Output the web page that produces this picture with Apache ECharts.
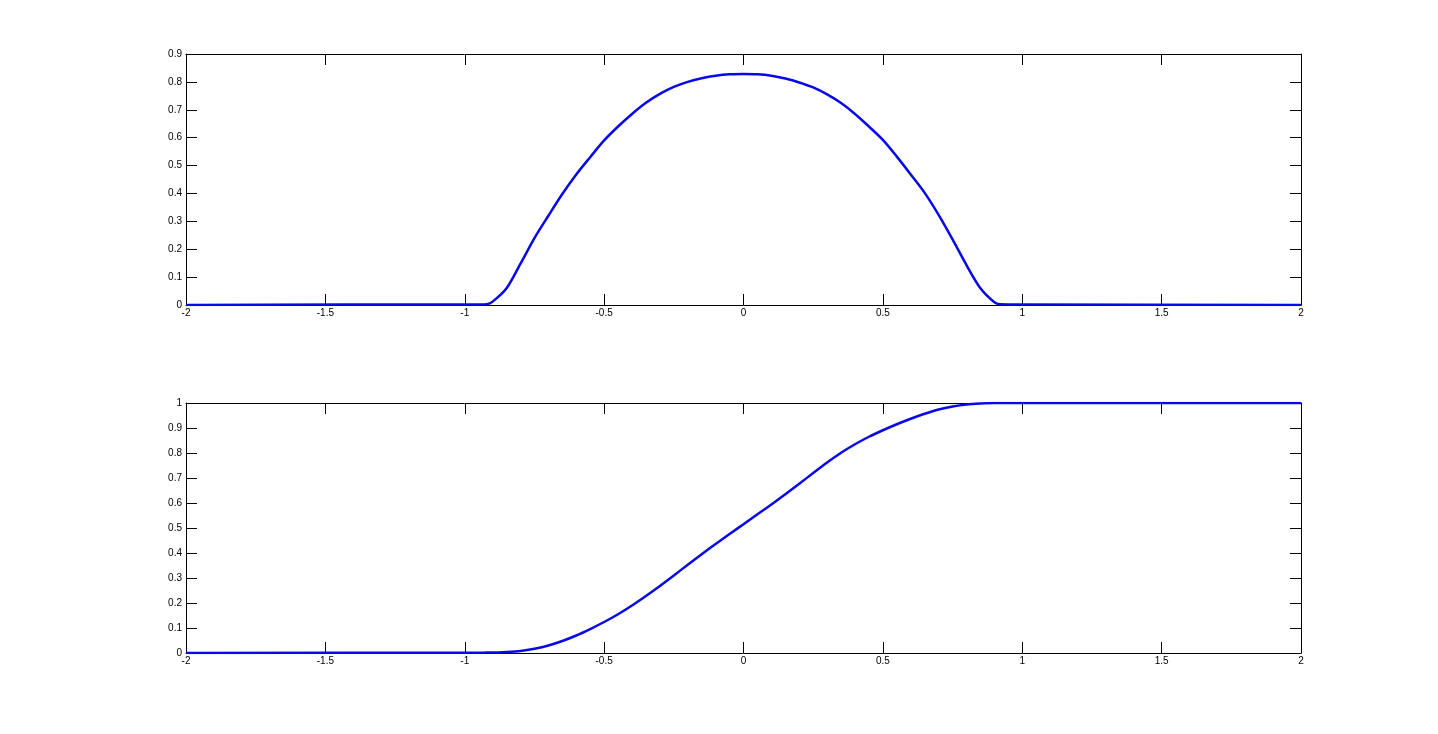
<!DOCTYPE html>
<html>
<head>
<meta charset="utf-8">
<script src="https://cdn.jsdelivr.net/npm/echarts@6/dist/echarts.min.js"></script>
<style>
  html, body { margin: 0; padding: 0; background: #fff; }
  #main { width: 1438px; height: 734px; }
</style>
</head>
<body>
<div id="main"></div>
<script>
// sample positions
const xs = [-2, -1, -0.95, -0.92, -0.9, -0.85, -0.8, -0.75, -0.7, -0.65, -0.6, -0.55, -0.5,
  -0.45, -0.4, -0.35, -0.3, -0.25, -0.2, -0.15, -0.1, -0.05, 0, 0.05, 0.1, 0.15, 0.2, 0.25,
  0.3, 0.35, 0.4, 0.45, 0.5, 0.55, 0.6, 0.65, 0.7, 0.75, 0.8, 0.85, 0.9, 0.92, 1, 2]

// top panel: density
const pdfY = [0, 0.002, 0.002, 0.003, 0.012, 0.06, 0.148, 0.24, 0.32, 0.398, 0.468, 0.53, 0.59,
  0.64, 0.685, 0.725, 0.757, 0.782, 0.8, 0.813, 0.822, 0.827, 0.828, 0.827, 0.822, 0.812, 0.798, 0.78,
  0.755, 0.724, 0.685, 0.64, 0.592, 0.532, 0.468, 0.402, 0.323, 0.235, 0.143, 0.06, 0.01, 0.003, 0.002, 0]

// bottom panel: cumulative
const cdfY = [0, 0.001, 0.001, 0.002, 0.002, 0.004, 0.008, 0.017, 0.03, 0.048, 0.07, 0.096, 0.124,
  0.155, 0.19, 0.228, 0.268, 0.31, 0.353, 0.395, 0.436, 0.476, 0.515, 0.555, 0.594, 0.635, 0.677, 0.72,
  0.762, 0.801, 0.835, 0.865, 0.891, 0.915, 0.937, 0.957, 0.974, 0.986, 0.994, 0.998, 1, 1, 1, 1]

const xRange = { min: -2, max: 2, interval: 0.5 }
const yTop = { min: 0, max: 0.9, interval: 0.1 }
const yBottom = { min: 0, max: 1, interval: 0.1 }

const pairs = (ys) => xs.map((x, i) => [x, ys[i]])

const labelStyle = {
  color: '#000',
  fontSize: 10,
  fontFamily: 'Liberation Sans, Arial, sans-serif'
}

const xAxisFor = (gridIndex, position) => ({
  type: 'value',
  gridIndex,
  position,
  ...xRange,
  axisLine: { show: true, onZero: false, lineStyle: { color: '#000', width: 1 } },
  axisTick: { show: true, inside: true, length: 11, lineStyle: { color: '#000' } },
  axisLabel: Object.assign({ show: position === 'bottom', margin: 3 }, labelStyle),
  splitLine: { show: false }
})

const yAxisFor = (gridIndex, position, range) => ({
  type: 'value',
  gridIndex,
  position,
  ...range,
  axisLine: { show: true, onZero: false, lineStyle: { color: '#000', width: 1 } },
  axisTick: { show: true, inside: true, length: 11, lineStyle: { color: '#000' } },
  axisLabel: Object.assign({ show: position === 'left', margin: 4 }, labelStyle),
  splitLine: { show: false }
})

const lineStyle = { color: '#0808e8', width: 2.5 }

const chart = echarts.init(document.getElementById('main'))

chart.setOption({
  animation: false,
  backgroundColor: '#fff',
  grid: [
    { left: 186, right: 137, top: 54, height: 251 },
    { left: 186, right: 137, top: 403, height: 250 }
  ],
  xAxis: [
    xAxisFor(0, 'bottom'),
    xAxisFor(0, 'top'),
    xAxisFor(1, 'bottom'),
    xAxisFor(1, 'top')
  ],
  yAxis: [
    yAxisFor(0, 'left', yTop),
    yAxisFor(0, 'right', yTop),
    yAxisFor(1, 'left', yBottom),
    yAxisFor(1, 'right', yBottom)
  ],
  series: [
    {
      type: 'line',
      xAxisIndex: 0,
      yAxisIndex: 0,
      data: pairs(pdfY),
      showSymbol: false,
      smooth: 0.3,
      lineStyle,
      z: 3
    },
    {
      type: 'line',
      xAxisIndex: 2,
      yAxisIndex: 2,
      data: pairs(cdfY),
      showSymbol: false,
      smooth: 0.3,
      lineStyle,
      z: 3
    }
  ]
})

window.addEventListener('resize', () => {
  chart.resize()
})
</script>
</body>
</html>
